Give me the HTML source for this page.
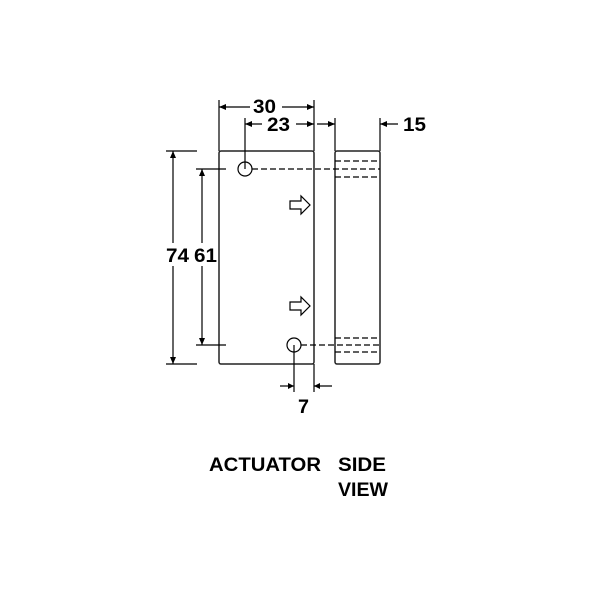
<!DOCTYPE html>
<html><head><style>body{margin:0;background:#fff}svg{display:block}text{font-family:"Liberation Sans",sans-serif;font-weight:bold;font-size:19px;fill:#000}</style></head><body>
<svg width="600" height="600" viewBox="0 0 600 600">
<g stroke="#000" stroke-width="1.2" fill="none">
<rect x="219" y="151" width="95" height="213" rx="2" stroke="#222" stroke-width="1.5"/>
<rect x="335" y="151" width="45" height="213" rx="2" stroke="#222" stroke-width="1.5"/>
<circle cx="245" cy="169" r="7"/>
<circle cx="294" cy="345" r="7"/>
<g stroke-dasharray="6,3">
<line x1="252" y1="169" x2="380" y2="169"/>
<line x1="335" y1="161" x2="380" y2="161"/>
<line x1="335" y1="177" x2="380" y2="177"/>
<line x1="301" y1="345" x2="380" y2="345"/>
<line x1="335" y1="338" x2="380" y2="338"/>
<line x1="335" y1="352" x2="380" y2="352"/>
</g>
<line x1="219" y1="100" x2="219" y2="151"/>
<line x1="314" y1="100" x2="314" y2="151"/>
<line x1="245" y1="118" x2="245" y2="169"/>
<line x1="335" y1="118" x2="335" y2="151"/>
<line x1="380" y1="118" x2="380" y2="151"/>
<line x1="166" y1="151" x2="197" y2="151"/>
<line x1="166" y1="364" x2="197" y2="364"/>
<line x1="196" y1="169" x2="226" y2="169"/>
<line x1="196" y1="345" x2="226" y2="345"/>
<line x1="294" y1="345" x2="294" y2="392"/>
<line x1="314" y1="364" x2="314" y2="392"/>
<line x1="219" y1="107" x2="250" y2="107"/><line x1="282" y1="107" x2="314" y2="107"/>
<line x1="245" y1="124" x2="262" y2="124"/><line x1="296" y1="124" x2="314" y2="124"/>
<line x1="317" y1="124" x2="335" y2="124"/>
<line x1="380" y1="124" x2="398" y2="124"/>
<line x1="173" y1="151" x2="173" y2="243"/><line x1="173" y1="266" x2="173" y2="364"/>
<line x1="202" y1="169" x2="202" y2="243"/><line x1="202" y1="266" x2="202" y2="345"/>
<line x1="280" y1="386" x2="294" y2="386"/>
<line x1="314" y1="386" x2="332" y2="386"/>
<path d="M290 201 h11 v-5 l9 9 l-9 9 v-5 h-11 z"/>
<path d="M290 302 h11 v-5 l9 9 l-9 9 v-5 h-11 z"/>
</g>
<g fill="#000">
<path d="M219 107 l7 -3 v6 z"/><path d="M314 107 l-7 -3 v6 z"/>
<path d="M245 124 l7 -3 v6 z"/><path d="M314 124 l-7 -3 v6 z"/>
<path d="M335 124 l-7 -3 v6 z"/><path d="M380 124 l7 -3 v6 z"/>
<path d="M173 151 l-3 7 h6 z"/><path d="M173 364 l-3 -7 h6 z"/>
<path d="M202 169 l-3 7 h6 z"/><path d="M202 345 l-3 -7 h6 z"/>
<path d="M294 386 l-6 -3 v6 z"/><path d="M314 386 l6 -3 v6 z"/>
</g>
<text x="253" y="113" textLength="23" lengthAdjust="spacingAndGlyphs">30</text>
<text x="267" y="131" textLength="23" lengthAdjust="spacingAndGlyphs">23</text>
<text x="403" y="131" textLength="23" lengthAdjust="spacingAndGlyphs">15</text>
<text x="166" y="262" textLength="23" lengthAdjust="spacingAndGlyphs">74</text>
<text x="194" y="262" textLength="23" lengthAdjust="spacingAndGlyphs">61</text>
<text x="298" y="413" textLength="11" lengthAdjust="spacingAndGlyphs">7</text>
<text x="209" y="471" textLength="112" lengthAdjust="spacingAndGlyphs">ACTUATOR</text>
<text x="338" y="471" textLength="48" lengthAdjust="spacingAndGlyphs">SIDE</text>
<text x="338" y="496" textLength="50" lengthAdjust="spacingAndGlyphs">VIEW</text>
</svg>
</body></html>
